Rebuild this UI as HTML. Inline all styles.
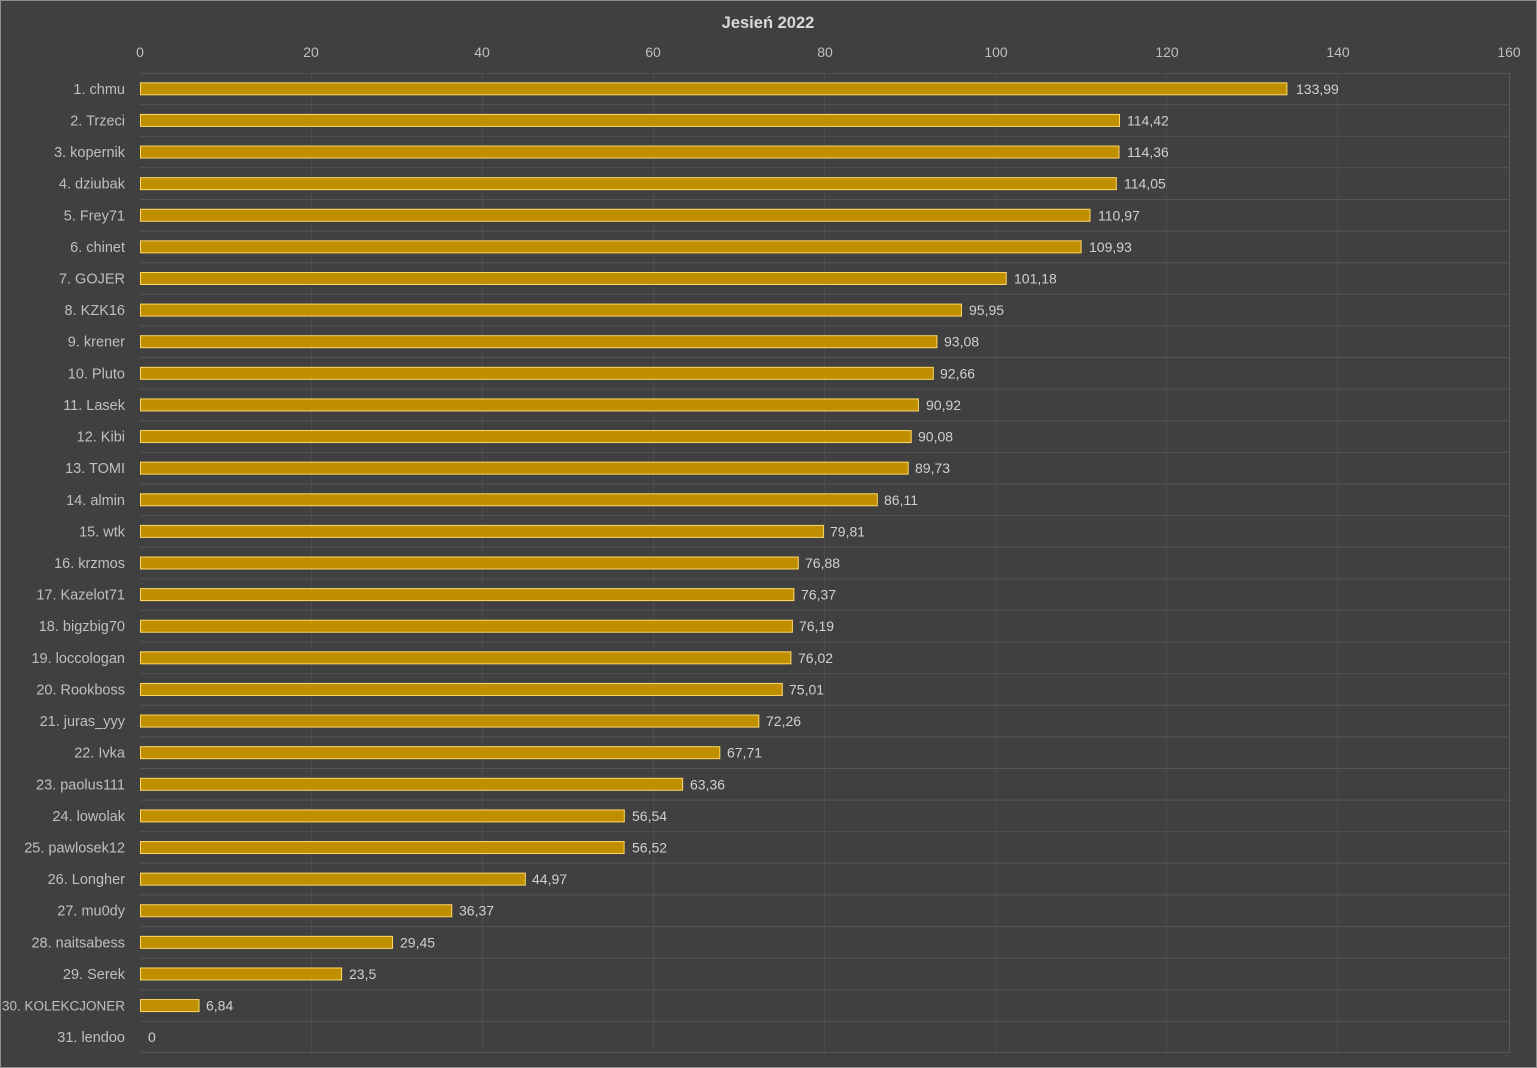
<!DOCTYPE html>
<html><head><meta charset="utf-8"><style>
html,body{margin:0;padding:0;background:#404040;}
svg{display:block;}
text{font-family:"Liberation Sans",sans-serif;}
</style></head><body>
<svg width="1537" height="1068" viewBox="0 0 1537 1068" xmlns="http://www.w3.org/2000/svg">
<rect x="0" y="0" width="1537" height="1068" fill="#404040"/>
<rect x="0.5" y="0.5" width="1536" height="1067" fill="none" stroke="#8f8f8f" stroke-width="1"/>
<text x="768" y="28" text-anchor="middle" font-size="16.5" font-weight="bold" fill="#d9d9d9">Jesień 2022</text>
<g font-size="14" fill="#bfbfbf" text-anchor="middle">
<text x="140" y="57">0</text><text x="311" y="57">20</text><text x="482" y="57">40</text><text x="653" y="57">60</text><text x="825" y="57">80</text><text x="996" y="57">100</text><text x="1167" y="57">120</text><text x="1338" y="57">140</text><text x="1509" y="57">160</text>
</g>
<g stroke="#4b4b4b" stroke-width="1">
<path d="M311.5 73V1053M482.5 73V1053M653.5 73V1053M824.5 73V1053M995.5 73V1053M1166.5 73V1053M1337.5 73V1053"/>
</g>
<path stroke="#5a5a5a" stroke-width="1" d="M1509.5 73V1053"/>
<g stroke="#4e5561" stroke-width="1">
<path d="M140 73.5H1509M140 104.6H1509M140 136.2H1509M140 167.8H1509M140 199.5H1509M140 231.1H1509M140 262.7H1509M140 294.3H1509M140 325.9H1509M140 357.5H1509M140 389.1H1509M140 420.7H1509M140 452.4H1509M140 484H1509M140 515.6H1509M140 547.2H1509M140 578.8H1509M140 610.4H1509M140 642H1509M140 673.6H1509M140 705.3H1509M140 736.9H1509M140 768.5H1509M140 800.1H1509M140 831.7H1509M140 863.3H1509M140 894.9H1509M140 926.5H1509M140 958.2H1509M140 989.8H1509M140 1021.4H1509M140 1052.5H1509"/>
</g>
<g font-size="14">
<g transform="translate(0,88.81)"><text x="125" y="5" text-anchor="end" fill="#bfbfbf" font-size="14.5">1. chmu</text><rect x="140.5" y="-6" width="1146.4" height="12" fill="#bf8f00" stroke="#ffd966"/><text x="1296" y="5" fill="#d0d0d0">133,99</text></g>
<g transform="translate(0,120.42)"><text x="125" y="5" text-anchor="end" fill="#bfbfbf" font-size="14.5">2. Trzeci</text><rect x="140.5" y="-6" width="979" height="12" fill="#bf8f00" stroke="#ffd966"/><text x="1127" y="5" fill="#d0d0d0">114,42</text></g>
<g transform="translate(0,152.03)"><text x="125" y="5" text-anchor="end" fill="#bfbfbf" font-size="14.5">3. kopernik</text><rect x="140.5" y="-6" width="978.5" height="12" fill="#bf8f00" stroke="#ffd966"/><text x="1127" y="5" fill="#d0d0d0">114,36</text></g>
<g transform="translate(0,183.65)"><text x="125" y="5" text-anchor="end" fill="#bfbfbf" font-size="14.5">4. dziubak</text><rect x="140.5" y="-6" width="975.8" height="12" fill="#bf8f00" stroke="#ffd966"/><text x="1124" y="5" fill="#d0d0d0">114,05</text></g>
<g transform="translate(0,215.26)"><text x="125" y="5" text-anchor="end" fill="#bfbfbf" font-size="14.5">5. Frey71</text><rect x="140.5" y="-6" width="949.5" height="12" fill="#bf8f00" stroke="#ffd966"/><text x="1098" y="5" fill="#d0d0d0">110,97</text></g>
<g transform="translate(0,246.87)"><text x="125" y="5" text-anchor="end" fill="#bfbfbf" font-size="14.5">6. chinet</text><rect x="140.5" y="-6" width="940.6" height="12" fill="#bf8f00" stroke="#ffd966"/><text x="1089" y="5" fill="#d0d0d0">109,93</text></g>
<g transform="translate(0,278.49)"><text x="125" y="5" text-anchor="end" fill="#bfbfbf" font-size="14.5">7. GOJER</text><rect x="140.5" y="-6" width="865.7" height="12" fill="#bf8f00" stroke="#ffd966"/><text x="1014" y="5" fill="#d0d0d0">101,18</text></g>
<g transform="translate(0,310.10)"><text x="125" y="5" text-anchor="end" fill="#bfbfbf" font-size="14.5">8. KZK16</text><rect x="140.5" y="-6" width="821" height="12" fill="#bf8f00" stroke="#ffd966"/><text x="969" y="5" fill="#d0d0d0">95,95</text></g>
<g transform="translate(0,341.71)"><text x="125" y="5" text-anchor="end" fill="#bfbfbf" font-size="14.5">9. krener</text><rect x="140.5" y="-6" width="796.4" height="12" fill="#bf8f00" stroke="#ffd966"/><text x="944" y="5" fill="#d0d0d0">93,08</text></g>
<g transform="translate(0,373.32)"><text x="125" y="5" text-anchor="end" fill="#bfbfbf" font-size="14.5">10. Pluto</text><rect x="140.5" y="-6" width="792.8" height="12" fill="#bf8f00" stroke="#ffd966"/><text x="940" y="5" fill="#d0d0d0">92,66</text></g>
<g transform="translate(0,404.94)"><text x="125" y="5" text-anchor="end" fill="#bfbfbf" font-size="14.5">11. Lasek</text><rect x="140.5" y="-6" width="777.9" height="12" fill="#bf8f00" stroke="#ffd966"/><text x="926" y="5" fill="#d0d0d0">90,92</text></g>
<g transform="translate(0,436.55)"><text x="125" y="5" text-anchor="end" fill="#bfbfbf" font-size="14.5">12. Kibi</text><rect x="140.5" y="-6" width="770.7" height="12" fill="#bf8f00" stroke="#ffd966"/><text x="918" y="5" fill="#d0d0d0">90,08</text></g>
<g transform="translate(0,468.16)"><text x="125" y="5" text-anchor="end" fill="#bfbfbf" font-size="14.5">13. TOMI</text><rect x="140.5" y="-6" width="767.7" height="12" fill="#bf8f00" stroke="#ffd966"/><text x="915" y="5" fill="#d0d0d0">89,73</text></g>
<g transform="translate(0,499.78)"><text x="125" y="5" text-anchor="end" fill="#bfbfbf" font-size="14.5">14. almin</text><rect x="140.5" y="-6" width="736.8" height="12" fill="#bf8f00" stroke="#ffd966"/><text x="884" y="5" fill="#d0d0d0">86,11</text></g>
<g transform="translate(0,531.39)"><text x="125" y="5" text-anchor="end" fill="#bfbfbf" font-size="14.5">15. wtk</text><rect x="140.5" y="-6" width="682.9" height="12" fill="#bf8f00" stroke="#ffd966"/><text x="830" y="5" fill="#d0d0d0">79,81</text></g>
<g transform="translate(0,563.00)"><text x="125" y="5" text-anchor="end" fill="#bfbfbf" font-size="14.5">16. krzmos</text><rect x="140.5" y="-6" width="657.8" height="12" fill="#bf8f00" stroke="#ffd966"/><text x="805" y="5" fill="#d0d0d0">76,88</text></g>
<g transform="translate(0,594.61)"><text x="125" y="5" text-anchor="end" fill="#bfbfbf" font-size="14.5">17. Kazelot71</text><rect x="140.5" y="-6" width="653.4" height="12" fill="#bf8f00" stroke="#ffd966"/><text x="801" y="5" fill="#d0d0d0">76,37</text></g>
<g transform="translate(0,626.23)"><text x="125" y="5" text-anchor="end" fill="#bfbfbf" font-size="14.5">18. bigzbig70</text><rect x="140.5" y="-6" width="651.9" height="12" fill="#bf8f00" stroke="#ffd966"/><text x="799" y="5" fill="#d0d0d0">76,19</text></g>
<g transform="translate(0,657.84)"><text x="125" y="5" text-anchor="end" fill="#bfbfbf" font-size="14.5">19. loccologan</text><rect x="140.5" y="-6" width="650.4" height="12" fill="#bf8f00" stroke="#ffd966"/><text x="798" y="5" fill="#d0d0d0">76,02</text></g>
<g transform="translate(0,689.45)"><text x="125" y="5" text-anchor="end" fill="#bfbfbf" font-size="14.5">20. Rookboss</text><rect x="140.5" y="-6" width="641.8" height="12" fill="#bf8f00" stroke="#ffd966"/><text x="789" y="5" fill="#d0d0d0">75,01</text></g>
<g transform="translate(0,721.07)"><text x="125" y="5" text-anchor="end" fill="#bfbfbf" font-size="14.5">21. juras_yyy</text><rect x="140.5" y="-6" width="618.3" height="12" fill="#bf8f00" stroke="#ffd966"/><text x="766" y="5" fill="#d0d0d0">72,26</text></g>
<g transform="translate(0,752.68)"><text x="125" y="5" text-anchor="end" fill="#bfbfbf" font-size="14.5">22. Ivka</text><rect x="140.5" y="-6" width="579.3" height="12" fill="#bf8f00" stroke="#ffd966"/><text x="727" y="5" fill="#d0d0d0">67,71</text></g>
<g transform="translate(0,784.29)"><text x="125" y="5" text-anchor="end" fill="#bfbfbf" font-size="14.5">23. paolus111</text><rect x="140.5" y="-6" width="542.1" height="12" fill="#bf8f00" stroke="#ffd966"/><text x="690" y="5" fill="#d0d0d0">63,36</text></g>
<g transform="translate(0,815.91)"><text x="125" y="5" text-anchor="end" fill="#bfbfbf" font-size="14.5">24. lowolak</text><rect x="140.5" y="-6" width="483.8" height="12" fill="#bf8f00" stroke="#ffd966"/><text x="632" y="5" fill="#d0d0d0">56,54</text></g>
<g transform="translate(0,847.52)"><text x="125" y="5" text-anchor="end" fill="#bfbfbf" font-size="14.5">25. pawlosek12</text><rect x="140.5" y="-6" width="483.6" height="12" fill="#bf8f00" stroke="#ffd966"/><text x="632" y="5" fill="#d0d0d0">56,52</text></g>
<g transform="translate(0,879.13)"><text x="125" y="5" text-anchor="end" fill="#bfbfbf" font-size="14.5">26. Longher</text><rect x="140.5" y="-6" width="384.8" height="12" fill="#bf8f00" stroke="#ffd966"/><text x="532" y="5" fill="#d0d0d0">44,97</text></g>
<g transform="translate(0,910.74)"><text x="125" y="5" text-anchor="end" fill="#bfbfbf" font-size="14.5">27. mu0dy</text><rect x="140.5" y="-6" width="311.2" height="12" fill="#bf8f00" stroke="#ffd966"/><text x="459" y="5" fill="#d0d0d0">36,37</text></g>
<g transform="translate(0,942.36)"><text x="125" y="5" text-anchor="end" fill="#bfbfbf" font-size="14.5">28. naitsabess</text><rect x="140.5" y="-6" width="252" height="12" fill="#bf8f00" stroke="#ffd966"/><text x="400" y="5" fill="#d0d0d0">29,45</text></g>
<g transform="translate(0,973.97)"><text x="125" y="5" text-anchor="end" fill="#bfbfbf" font-size="14.5">29. Serek</text><rect x="140.5" y="-6" width="201.1" height="12" fill="#bf8f00" stroke="#ffd966"/><text x="349" y="5" fill="#d0d0d0">23,5</text></g>
<g transform="translate(0,1005.58)"><text x="125" y="5" text-anchor="end" fill="#bfbfbf" font-size="13.5">30. KOLEKCJONER</text><rect x="140.5" y="-6" width="58.5" height="12" fill="#bf8f00" stroke="#ffd966"/><text x="206" y="5" fill="#d0d0d0">6,84</text></g>
<g transform="translate(0,1037.19)"><text x="125" y="5" text-anchor="end" fill="#bfbfbf" font-size="14.5">31. lendoo</text><text x="148" y="5" fill="#d0d0d0">0</text></g>
</g>
</svg>
</body></html>
